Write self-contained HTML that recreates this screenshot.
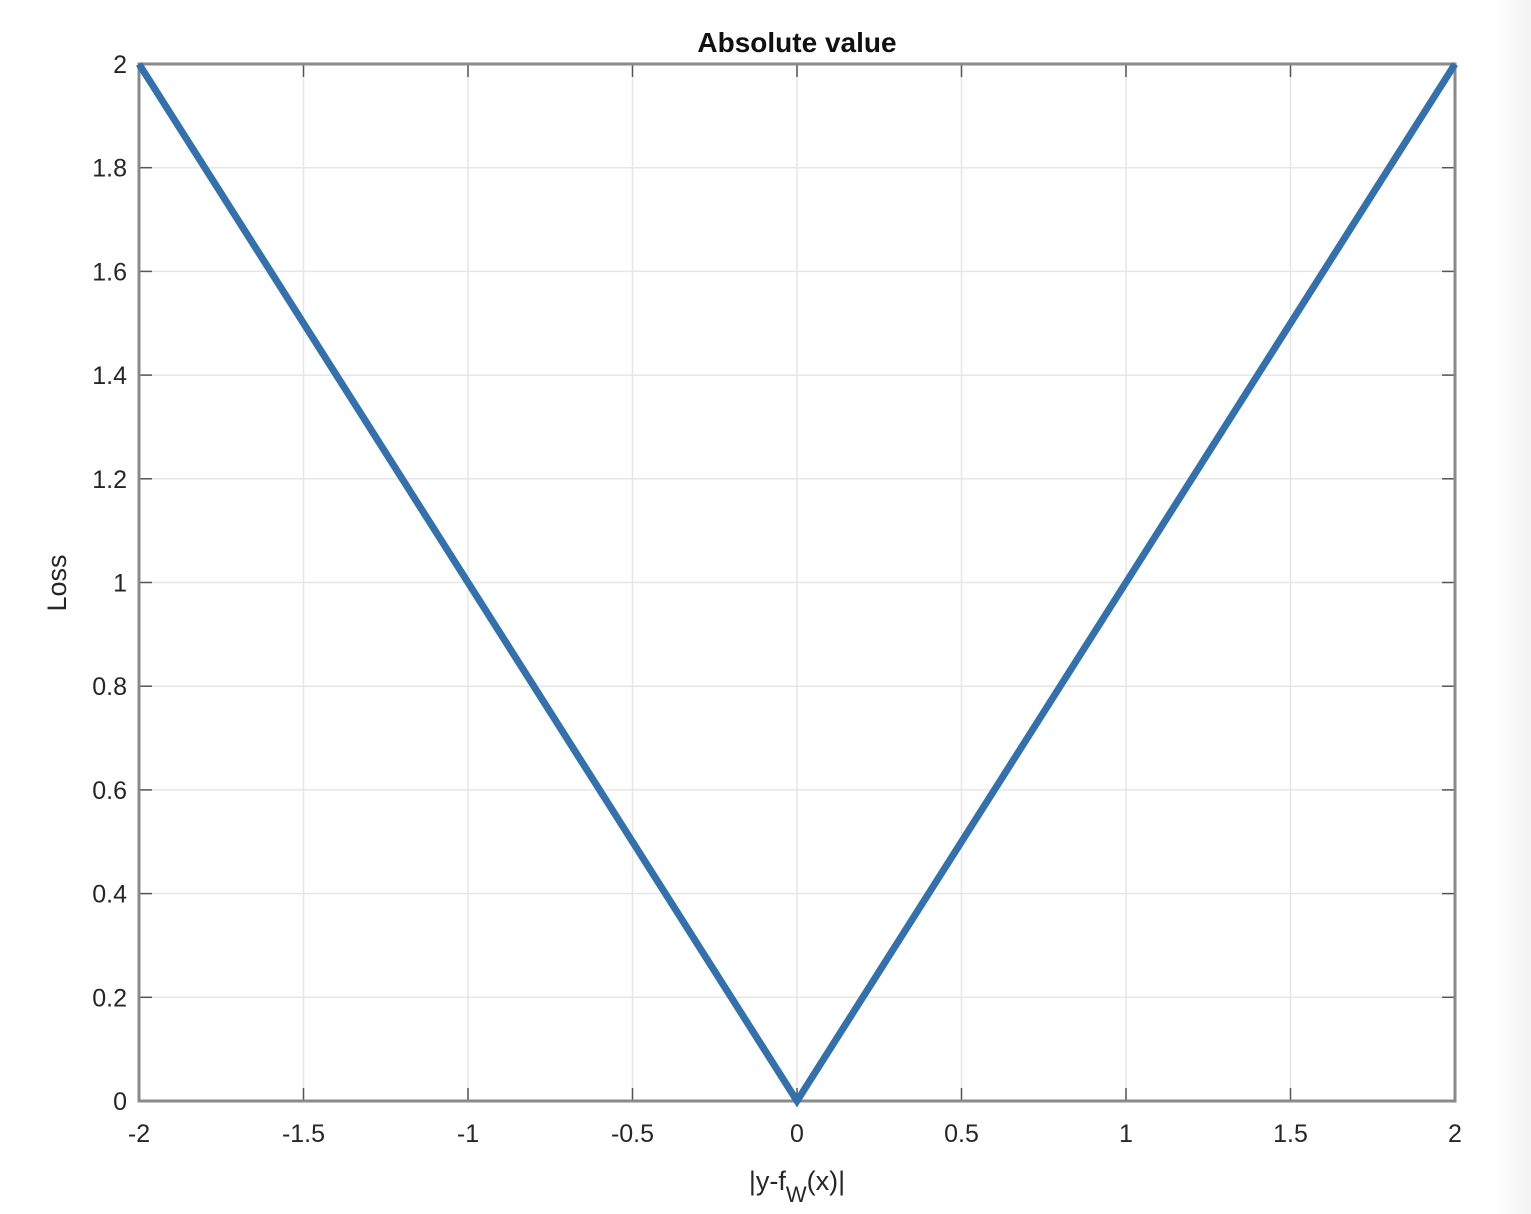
<!DOCTYPE html>
<html><head><meta charset="utf-8"><style>
html,body{margin:0;padding:0;background:#fff;}
body{width:1531px;height:1214px;overflow:hidden;position:relative;font-family:"Liberation Sans",sans-serif;}
#strip{position:absolute;left:1495px;top:0;width:36px;height:1214px;background:linear-gradient(to right,#fff,#f3f3f3);}
</style></head><body>
<div id="strip"></div>
<svg id="chart" width="1531" height="1214" style="position:absolute;left:0;top:0"></svg>
<script>
const xTicks=[-2,-1.5,-1,-0.5,0,0.5,1,1.5,2];
const xTickLabels=["-2","-1.5","-1","-0.5","0","0.5","1","1.5","2"];
const yTicks=[0,0.2,0.4,0.6,0.8,1,1.2,1.4,1.6,1.8,2];
const yTickLabels=["0","0.2","0.4","0.6","0.8","1","1.2","1.4","1.6","1.8","2"];
const seriesX=[-2,0,2];
const seriesY=[2,0,2];
const L=139,R=1455,T=64,B=1101;
const xs=v=>L+(v+2)/4*(R-L);
const ys=v=>B-v/2*(B-T);
const NS="http://www.w3.org/2000/svg";
const svg=document.getElementById('chart');
function mk(tag,attrs,parent){const e=document.createElementNS(NS,tag);for(const k in attrs)e.setAttribute(k,attrs[k]);(parent||svg).appendChild(e);return e;}
const grid=mk('g',{});


xTicks.forEach((v,i)=>{
  const x=xs(v);
  const g=mk('line',{x1:x,x2:x,y1:T,y2:B,stroke:'#e6e6e6','stroke-width':1.5},grid);
  
  
  mk('line',{x1:x,x2:x,y1:B,y2:B-13,stroke:'#555','stroke-width':1.5});
  mk('line',{x1:x,x2:x,y1:T,y2:T+13,stroke:'#555','stroke-width':1.5});
  const t=mk('text',{x:x,y:B+41,'text-anchor':'middle','font-size':25,fill:'#262626'});
  t.textContent=xTickLabels[i];
  
  
});
yTicks.forEach((v,i)=>{
  const y=ys(v);
  const g=mk('line',{x1:L,x2:R,y1:y,y2:y,stroke:'#e6e6e6','stroke-width':1.5},grid);
  
  
  mk('line',{x1:L,x2:L+13,y1:y,y2:y,stroke:'#555','stroke-width':1.5});
  mk('line',{x1:R,x2:R-13,y1:y,y2:y,stroke:'#555','stroke-width':1.5});
  const t=mk('text',{x:L-12,y:y+9,'text-anchor':'end','font-size':25,fill:'#262626'});
  t.textContent=yTickLabels[i];
  
  
});
const frame=mk('rect',{x:L,y:T,width:R-L,height:B-T,fill:'none',stroke:'#8a8a8a','stroke-width':3});


const line=mk('polyline',{points:seriesX.map((x,i)=>xs(x)+','+ys(seriesY[i])).join(' '),fill:'none',stroke:'#3371ae','stroke-width':7,'stroke-linejoin':'miter'});


const title=mk('text',{x:(L+R)/2,y:52,'text-anchor':'middle','font-size':28,'font-weight':'bold',fill:'#111'});
title.textContent='Absolute value';


const yl=mk('text',{x:0,y:0,'text-anchor':'middle','font-size':27,fill:'#262626',transform:'translate(66,583) rotate(-90)'});
yl.textContent='Loss';


const xl=mk('text',{x:797,y:1190,'text-anchor':'middle','font-size':27,fill:'#262626'});
xl.innerHTML='|y-f<tspan dy="12" font-size="22">W</tspan><tspan dy="-12">(x)|</tspan>';


</script>
</body></html>
